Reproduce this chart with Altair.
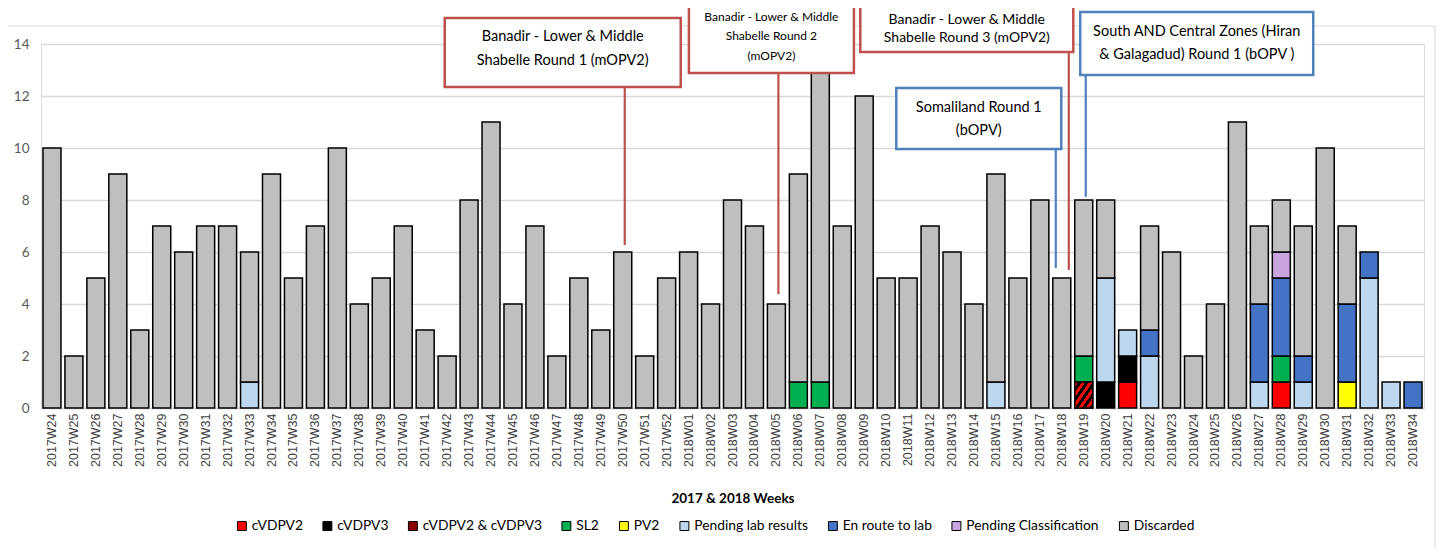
import altair as alt
import pandas as pd

# ---------------- data ----------------
weeks = [f"2017W{w:02d}" for w in range(24, 53)] + [f"2018W{w:02d}" for w in range(1, 35)]

discarded = [10, 2, 5, 9, 3, 7, 6, 7, 7, 5, 9, 5, 7, 10, 4, 5, 7, 3, 2, 8,
             11, 4, 7, 2, 5, 3, 6, 2, 5,
             6, 4, 8, 7, 4, 8, 12, 7, 12, 5, 5, 7, 6, 4, 8, 5, 8, 5, 6, 3,
             0, 4, 6, 2, 4, 11, 3, 2, 5, 10, 3, 0, 0, 0]

cvdpv2 = {"2018W21": 1, "2018W28": 1}
cvdpv3 = {"2018W20": 1, "2018W21": 1}
cvdpv2_cvdpv3 = {"2018W19": 1}
sl2 = {"2018W06": 1, "2018W07": 1, "2018W19": 1, "2018W28": 1}
pv2 = {"2018W31": 1}
pending_lab = {"2017W33": 1, "2018W15": 1, "2018W20": 4, "2018W21": 1, "2018W22": 2,
               "2018W27": 1, "2018W29": 1, "2018W32": 5, "2018W33": 1}
en_route = {"2018W22": 1, "2018W27": 3, "2018W28": 3, "2018W29": 1, "2018W31": 3,
            "2018W32": 1, "2018W34": 1}
pending_class = {"2018W28": 1}

categories = ["cVDPV2", "cVDPV3", "cVDPV2 & cVDPV3", "SL2", "PV2",
              "Pending lab results", "En route to lab", "Pending Classification", "Discarded"]
colors = ["#FF0000", "#000000", "#8B0000", "#00B050", "#FFFF00",
          "#BDD7EE", "#4472C4", "#C9A5E0", "#BFBFBF"]

series = [cvdpv2, cvdpv3, cvdpv2_cvdpv3, sl2, pv2, pending_lab, en_route, pending_class,
          dict(zip(weeks, discarded))]

rows = []
for wi, wk in enumerate(weeks):
    for ci, (cat, s) in enumerate(zip(categories, series)):
        v = s.get(wk, 0)
        if v > 0:
            rows.append({"week": wk, "category": cat, "count": v, "order": ci})
df = pd.DataFrame(rows)

# annotations (campaign call-outs)
annotations = [
    {"week": "2017W50", "text": "Banadir -  Lower & Middle\nShabelle  Round 1   (mOPV2)",
     "color": "#C0504D", "line_lo": 6.27, "line_hi": 12.31, "line_off": 2,
     "box_lo": 12.35, "box_hi": 15.0, "box_off": -60, "box_w": 236,
     "text_y": 14.27, "font": 14.5, "lh": 24},
    {"week": "2018W05", "text": "Banadir -  Lower & Middle\nShabelle  Round 2\n(mOPV2)",
     "color": "#C0504D", "line_lo": 4.38, "line_hi": 12.88, "line_off": 2,
     "box_lo": 12.88, "box_hi": 15.72, "box_off": -5, "box_w": 165,
     "text_y": 15.04, "font": 12, "lh": 19.5},
    {"week": "2018W18", "text": "Banadir -  Lower & Middle\nShabelle  Round 3   (mOPV2)",
     "color": "#C0504D", "line_lo": 5.31, "line_hi": 13.69, "line_off": 7,
     "box_lo": 13.69, "box_hi": 16.35, "box_off": -95, "box_w": 213,
     "text_y": 14.92, "font": 14, "lh": 17.5},
    {"week": "2018W18", "text": "Somaliland Round 1\n(bOPV)",
     "color": "#4F81BD", "line_lo": 5.38, "line_hi": 9.96, "line_off": -6,
     "box_lo": 9.96, "box_hi": 12.31, "box_off": -83, "box_w": 165,
     "text_y": 11.54, "font": 14.5, "lh": 23},
    {"week": "2018W19", "text": "South AND Central Zones (Hiran\n& Galagadud) Round 1 (bOPV )",
     "color": "#4F81BD", "line_lo": 8.12, "line_hi": 12.81, "line_off": 2,
     "box_lo": 12.81, "box_hi": 15.23, "box_off": 113, "box_w": 233,
     "text_y": 14.46, "font": 14.5, "lh": 23},
]

# ---------------- chart ----------------
FONT = "Lato"

x_enc = alt.X("week:N", sort=weeks,
              scale=alt.Scale(paddingInner=0.18, paddingOuter=0.09),
              axis=alt.Axis(title="2017 & 2018 Weeks", labelAngle=-90, labelFont="Liberation Sans",
                            labelFontSize=12.5, labelColor="#404040", labelPadding=5,
                            ticks=False, domainColor="#D9D9D9", domainWidth=1.5,
                            titleFont=FONT, titleFontSize=13.5, titleFontWeight="bold",
                            titleColor="#000000", titlePadding=25, grid=False))

y_scale = alt.Scale(domain=[0, 14], nice=False)

stripes = []
n = 5
for k in range(n):
    a, b, c = k / n, (k + 0.5) / n, (k + 1) / n
    stripes += [alt.GradientStop(color="#FF0000", offset=a),
                alt.GradientStop(color="#FF0000", offset=b),
                alt.GradientStop(color="#000000", offset=b),
                alt.GradientStop(color="#000000", offset=c)]
hatch_fill = alt.Gradient(gradient="linear", x1=0, y1=0, x2=1, y2=1, stops=stripes)

base = alt.Chart(df).transform_stack(
    stack="count", groupby=["week"],
    sort=[alt.SortField("order", order="ascending")],
    as_=["y0", "y1"],
)

border = alt.Chart(pd.DataFrame({"k": [0]})).mark_rect(
    filled=False, color="#D9D9D9", strokeWidth=1
).encode(x=alt.value(-38), x2=alt.value(1394), y=alt.value(-18), y2=alt.value(600))

bars = base.mark_bar(stroke="#000000", strokeWidth=1.5).encode(
    x=x_enc,
    y=alt.Y("y0:Q", scale=y_scale,
            axis=alt.Axis(title=None, values=list(range(0, 15, 2)), grid=True,
                          gridColor="#D9D9D9", gridWidth=1.5, ticks=False, domain=False,
                          labelFont=FONT, labelFontSize=13.5, labelColor="#595959",
                          labelPadding=12)),
    y2="y1:Q",
    color=alt.Color("category:N",
                    scale=alt.Scale(domain=categories, range=colors),
                    legend=alt.Legend(title=None, orient="none", direction="horizontal",
                                      columns=9, legendX=194, legendY=475,
                                      symbolType="square", symbolSize=80,
                                      symbolStrokeColor="#000000", symbolStrokeWidth=1,
                                      labelFont=FONT, labelFontSize=13.8, labelColor="#000000",
                                      labelOffset=3, columnPadding=17.5)),
)

hatch = base.transform_filter(alt.datum.category == "cVDPV2 & cVDPV3").mark_bar(
    stroke="#000000", strokeWidth=1.5, fill=hatch_fill
).encode(x=alt.X("week:N", sort=weeks), y="y0:Q", y2="y1:Q")

layers = [border, bars, hatch]
for a in annotations:
    adf = pd.DataFrame([a])
    rule = alt.Chart(adf).mark_rule(color=a["color"], strokeWidth=2.2, xOffset=a["line_off"]).encode(
        x=alt.X("week:N", sort=weeks), y="line_lo:Q", y2="line_hi:Q")
    box = alt.Chart(adf).mark_bar(fill="white", stroke=a["color"], strokeWidth=2.5,
                                  width=a["box_w"], xOffset=a["box_off"]).encode(
        x=alt.X("week:N", sort=weeks), y="box_lo:Q", y2="box_hi:Q")
    txt = alt.Chart(adf).mark_text(font=FONT, fontSize=a["font"], color="#000000",
                                   align="center", baseline="middle", lineBreak="\n",
                                   lineHeight=a["lh"], dx=a["box_off"]).encode(
        x=alt.X("week:N", sort=weeks), y="text_y:Q", text="text:N")
    layers += [rule, box, txt]

chart = alt.layer(*layers).properties(
    width=1383, height=364,
    autosize=alt.AutoSizeParams(type="none"),
    padding={"left": 33, "top": 36, "right": 13, "bottom": 140},
).configure_view(stroke=None).configure(background="white")

chart.save("out.html", embed_options={"renderer": "svg", "actions": False})
